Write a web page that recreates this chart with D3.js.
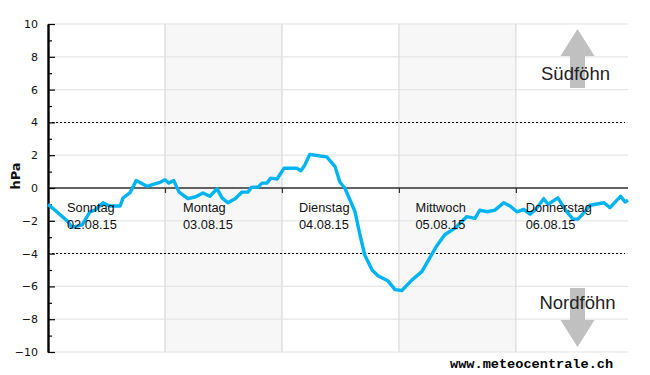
<!DOCTYPE html>
<html>
<head>
<meta charset="utf-8">
<script src="https://cdn.jsdelivr.net/npm/d3@7"></script>
<style>
  body { margin: 0; background: #fff; }
  svg { display: block; }
</style>
</head>
<body>
<div id="chart"></div>
<script>
// hours since 02.08.15 00:00
const hours = [0, 1.8, 4.1, 4.9, 7, 8.6, 9.6, 11.3, 12.7, 14.8, 15.4, 16.8, 18.1, 20.3, 21.9, 23, 24, 24.8, 25.8, 26.9,
  28.7, 30.2, 31.8, 33.2, 34.7, 35.7, 36.9, 38.4, 39.8, 41, 41.8, 43.1, 43.9, 44.9, 45.7, 47, 48.4, 51.1, 51.9, 52.7,
  53.7, 55.8, 57.2, 58.9, 59.9, 60.9, 63, 64, 65, 66.5, 67.7, 69.7, 71.2, 72.6, 74.7, 76.7, 79.6, 81.4, 83.5, 85.9,
  87.6, 88.6, 90.1, 91.7, 93.5, 94.8, 96.2, 97.6, 98.9, 100.1, 101.7, 102.6, 104.6, 106.3, 107.7, 108.7, 109.7, 111.2,
  114.1, 115.3, 117.5, 118.4, 119];
const hPa = [-1, -1.45, -2.05, -2.4, -2.25, -1.45, -1.35, -0.9, -1.1, -1.1, -0.6, -0.3, 0.45, 0.1, 0.25, 0.35, 0.5, 0.3, 0.45, -0.25,
  -0.65, -0.55, -0.3, -0.5, -0.05, -0.6, -0.9, -0.65, -0.25, -0.25, 0.05, 0.05, 0.3, 0.3, 0.6, 0.55, 1.2, 1.2, 1.05, 1.4,
  2.05, 1.95, 1.9, 1.3, 0.35, 0, -1.45, -2.85, -4.1, -5, -5.35, -5.65, -6.2, -6.25, -5.6, -5.1, -3.6, -2.85, -2.45, -1.75,
  -1.85, -1.35, -1.45, -1.35, -0.9, -1.1, -1.45, -1.3, -1.6, -1.3, -0.65, -1, -0.6, -1.4, -1.9, -1.9, -1.6, -1.05,
  -0.9, -1.2, -0.5, -0.85, -0.75];

const dayNames = ['Sonntag', 'Montag', 'Dienstag', 'Mittwoch', 'Donnerstag'];
const dayDates = ['02.08.15', '03.08.15', '04.08.15', '05.08.15', '06.08.15'];
const dayLabelHours = [3.9, 27.7, 51.5, 75.4, 98];
const dayHours = [24, 48, 72, 96];
const shadedDays = [[24, 48], [72, 96]];
const majorTicks = [-10, -8, -6, -4, -2, 0, 2, 4, 6, 8, 10];
const minorTicks = [-9, -7, -5, -3, -1, 1, 3, 5, 7, 9];
const limitLines = [-4, 4];

const chartWidth = 650;
const chartHeight = 375;
const plotLeft = 48, plotRight = 628, plotTop = 24, plotBottom = 352;

const xScale = d3.scaleLinear().domain([0, 119]).range([plotLeft, plotRight]);
const yScale = d3.scaleLinear().domain([-10, 10]).range([plotBottom, plotTop]);

const chart = d3.select('#chart')
  .append('svg')
  .attr('width', chartWidth)
  .attr('height', chartHeight);

//Shaded days
chart.selectAll('.band')
  .data(shadedDays)
  .enter()
  .append('rect')
  .attr('class', 'band')
  .attr('x', d => xScale(d[0]))
  .attr('y', plotTop)
  .attr('width', d => xScale(d[1]) - xScale(d[0]))
  .attr('height', plotBottom - plotTop)
  .attr('fill', '#f7f7f7');

//Grid
chart.selectAll('.hgrid')
  .data(majorTicks)
  .enter()
  .append('line')
  .attr('class', 'hgrid')
  .attr('x1', plotLeft)
  .attr('x2', plotRight)
  .attr('y1', d => yScale(d))
  .attr('y2', d => yScale(d))
  .attr('stroke', '#e6e6e6')
  .attr('stroke-width', 1.2);

chart.selectAll('.vgrid')
  .data(dayHours)
  .enter()
  .append('line')
  .attr('class', 'vgrid')
  .attr('x1', d => xScale(d))
  .attr('x2', d => xScale(d))
  .attr('y1', plotTop)
  .attr('y2', plotBottom)
  .attr('stroke', (d, i) => i < 2 ? '#e0e0e0' : '#d4d4d4')
  .attr('stroke-width', (d, i) => i < 2 ? 1.6 : 1);

//Limits at +-4
chart.selectAll('.limit')
  .data(limitLines)
  .enter()
  .append('line')
  .attr('class', 'limit')
  .attr('x1', plotLeft)
  .attr('x2', plotRight - 3)
  .attr('y1', d => Math.floor(yScale(d)) + 0.5)
  .attr('y2', d => Math.floor(yScale(d)) + 0.5)
  .attr('stroke', '#000')
  .attr('stroke-width', 1)
  .attr('stroke-dasharray', '2,2');

//Arrows
const arrow = d3.line().x(d => d[0]).y(d => d[1]);
const arrowX = 577.5;
chart.append('path')
  .attr('d', arrow([[arrowX, 29], [arrowX + 17, 56], [arrowX + 7.5, 56], [arrowX + 7.5, 88], [arrowX - 7.5, 88], [arrowX - 7.5, 56], [arrowX - 17, 56]]) + 'Z')
  .attr('fill', '#c0c0c0');
chart.append('path')
  .attr('d', arrow([[arrowX, 347], [arrowX + 17, 320], [arrowX + 7.5, 320], [arrowX + 7.5, 288], [arrowX - 7.5, 288], [arrowX - 7.5, 320], [arrowX - 17, 320]]) + 'Z')
  .attr('fill', '#c0c0c0');

//Zero line
chart.append('line')
  .attr('x1', plotLeft)
  .attr('x2', plotRight)
  .attr('y1', yScale(0))
  .attr('y2', yScale(0))
  .attr('stroke', '#333')
  .attr('stroke-width', 1.6);

//Axes
const xAxis = d3.axisBottom(xScale)
  .tickValues(dayHours)
  .tickSize(5)
  .tickFormat('');
chart.append('g')
  .attr('transform', `translate(0, ${yScale(0)})`)
  .call(xAxis)
  .call(g => g.select('.domain').remove())
  .call(g => g.selectAll('line').attr('stroke', '#333').attr('stroke-width', 1.2));

const yAxis = d3.axisLeft(yScale)
  .tickValues(majorTicks)
  .tickSizeInner(-7)
  .tickSizeOuter(0)
  .tickPadding(10);
chart.append('g')
  .attr('transform', `translate(${plotLeft}, 0)`)
  .call(yAxis)
  .call(g => g.select('.domain').attr('stroke', '#000').attr('stroke-width', 2.4))
  .call(g => g.selectAll('line').attr('stroke', '#000').attr('stroke-width', 1.2))
  .call(g => g.selectAll('text')
    .style('font-family', '"DejaVu Sans", sans-serif')
    .style('font-size', '11px')
    .attr('fill', '#111'));

const yMinor = d3.axisLeft(yScale)
  .tickValues(minorTicks)
  .tickSizeInner(-4)
  .tickSizeOuter(0)
  .tickFormat('');
chart.append('g')
  .attr('transform', `translate(${plotLeft}, 0)`)
  .call(yMinor)
  .call(g => g.select('.domain').remove())
  .call(g => g.selectAll('line').attr('stroke', '#000').attr('stroke-width', 1.2));

//Pressure line
const line = d3.line()
  .x(d => xScale(d))
  .y((d, i) => yScale(hPa[i]));
chart.append('path')
  .attr('d', line(hours))
  .attr('fill', 'none')
  .attr('stroke', '#00b4f2')
  .attr('stroke-width', 3.4)
  .attr('stroke-linejoin', 'round');

//Day labels
const labels = chart.append('g')
  .style('font-family', '"Liberation Sans", Arial, sans-serif')
  .style('font-size', '12.8px')
  .attr('fill', '#111');
labels.selectAll('.day')
  .data(dayNames)
  .enter()
  .append('text')
  .attr('class', 'day')
  .attr('x', (d, i) => xScale(dayLabelHours[i]))
  .attr('y', 212)
  .text(d => d);
labels.selectAll('.date')
  .data(dayDates)
  .enter()
  .append('text')
  .attr('class', 'date')
  .attr('x', (d, i) => xScale(dayLabelHours[i]))
  .attr('y', 229)
  .text(d => d);

//Axis title
chart.append('text')
  .attr('transform', 'translate(20, 176) rotate(-90)')
  .attr('text-anchor', 'middle')
  .style('font-family', '"DejaVu Sans", sans-serif')
  .style('font-size', '13px')
  .style('font-weight', 'bold')
  .attr('fill', '#111')
  .text('hPa');

//Foehn labels
chart.append('text')
  .attr('x', 575.5)
  .attr('y', 80)
  .attr('text-anchor', 'middle')
  .style('font-family', '"Liberation Sans", Arial, sans-serif')
  .style('font-size', '18.5px')
  .attr('fill', '#222')
  .text('Südföhn');
chart.append('text')
  .attr('x', 577.5)
  .attr('y', 309)
  .attr('text-anchor', 'middle')
  .style('font-family', '"Liberation Sans", Arial, sans-serif')
  .style('font-size', '18.5px')
  .attr('fill', '#222')
  .text('Nordföhn');

//Watermark
chart.append('text')
  .attr('x', 450)
  .attr('y', 368)
  .style('font-family', '"Liberation Mono", monospace')
  .style('font-size', '13.6px')
  .style('font-weight', 'bold')
  .attr('fill', '#000')
  .text('www.meteocentrale.ch');
</script>
</body>
</html>
